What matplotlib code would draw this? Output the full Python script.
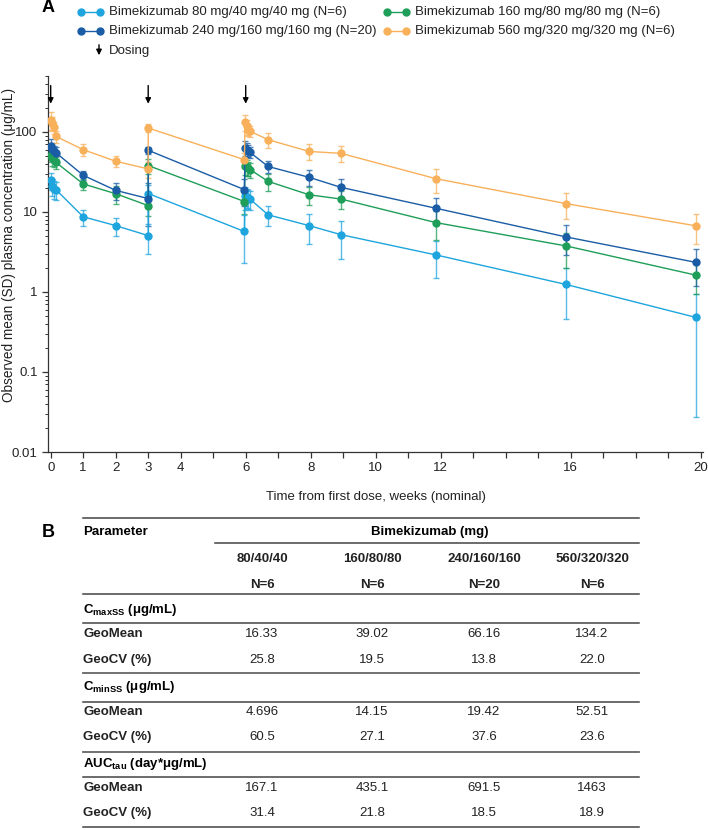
import matplotlib
matplotlib.use("Agg")
import matplotlib.pyplot as plt
from matplotlib.lines import Line2D
from matplotlib.patches import FancyArrowPatch
from matplotlib.ticker import FixedLocator, LogLocator, NullFormatter

plt.rcParams['font.family'] = ['Liberation Sans', 'DejaVu Sans']
plt.rcParams['mathtext.fontset'] = 'custom'
plt.rcParams['mathtext.rm'] = 'Liberation Sans'
plt.rcParams['mathtext.bf'] = 'Liberation Sans:bold'

# ---- data (panel A) ----
weeks = [0.01, 0.05, 0.10, 0.16, 1.0, 2.0, 3.0, 3.0, 5.96, 5.98, 6.03, 6.08, 6.13,
         6.69, 7.95, 8.93, 11.86, 15.86, 19.86]

conc_80 = [25, 21, 19.5, 19, 8.7, 6.75, 5.06, 17, 5.7, 15.7, 15.2, 14.8, 14.5,
           9.2, 6.75, 5.2, 2.9, 1.24, 0.48]
sd_80 = [6, 5, 5, 5, 2, 1.75, 2.06, 5, 3.4, 5, 4, 4, 4, 2.6, 2.8, 2.6, 1.4, 0.78, 0.453]

conc_160 = [52, 47, 44, 41.7, 22.4, 16.9, 12, 38, 13.5, 38, 36, 35, 33.9,
            24.1, 16.4, 14.5, 7.35, 3.76, 1.62]
sd_160 = [10, 9, 8, 7, 3.6, 4.3, 3, 8, 4, 9, 8, 7, 7, 6, 4.2, 3.6, 2.95, 1.76, 0.69]

conc_240 = [67, 61, 57, 55, 28.7, 18.6, 14.7, 59, 19, 63, 60, 58, 55.6,
            37, 27.1, 20.3, 11.1, 4.87, 2.34]
sd_240 = [14, 12, 10, 9, 3.5, 4.4, 8, 6, 7, 13, 12, 10, 9, 6, 6, 5.8, 3.9, 2.0, 1.15]

conc_560 = [142, 129, 115, 88, 60, 43, 34.5, 112, 45, 132, 117, 106, 102,
            80, 57, 54, 26, 12.7, 6.7]
sd_560 = [35, 25, 20, 15, 10, 7, 8, 13, 10, 30, 25, 18, 15, 17, 13, 12, 8.5, 4.6, 2.7]

dosing_weeks = [0, 3, 6]

labels = ['Bimekizumab 80 mg/40 mg/40 mg (N=6)',
          'Bimekizumab 160 mg/80 mg/80 mg (N=6)',
          'Bimekizumab 240 mg/160 mg/160 mg (N=20)',
          'Bimekizumab 560 mg/320 mg/320 mg (N=6)']
colors = ['#1EA5DE', '#1E9E58', '#1A5DA6', '#F8B05A']

xtick_labels = [0, 1, 2, 3, 4, 6, 8, 10, 12, 16, 20]

# ---- data (panel B) ----
dose_cols = ['80/40/40', '160/80/80', '240/160/160', '560/320/320']
n_cols = ['N=6', 'N=6', 'N=20', 'N=6']
cmax_geomean = ['16.33', '39.02', '66.16', '134.2']
cmax_geocv = ['25.8', '19.5', '13.8', '22.0']
cmin_geomean = ['4.696', '14.15', '19.42', '52.51']
cmin_geocv = ['60.5', '27.1', '37.6', '23.6']
auc_geomean = ['167.1', '435.1', '691.5', '1463']
auc_geocv = ['31.4', '21.8', '18.5', '18.9']

W, H = 708, 830
fig = plt.figure(figsize=(W / 100, H / 100), dpi=100)


def fx(px):
    return px / W


def fy(py):
    return 1 - py / H


ax = fig.add_axes([fx(48), fy(452), fx(703) - fx(48), fy(76) - fy(452)])

series = [(conc_80, sd_80), (conc_160, sd_160), (conc_240, sd_240), (conc_560, sd_560)]
for (c, s), col in zip(series, colors):
    ax.errorbar(weeks, c, yerr=s, fmt='none', ecolor=col, elinewidth=1.0,
                capsize=2, capthick=1.0, alpha=0.75, zorder=2)
    ax.plot(weeks, c, '-o', color=col, lw=1.0, ms=5, mec=col, zorder=3)

ax.set_yscale('log')
ax.set_ylim(0.01, 500)
ax.set_xlim(-0.083, 20.07)
ax.yaxis.set_major_locator(FixedLocator([0.01, 0.1, 1, 10, 100]))
ax.set_yticklabels(['0.01', '0.1', '1', '10', '100'])
ax.yaxis.set_minor_locator(LogLocator(base=10, subs=range(2, 10)))
ax.yaxis.set_minor_formatter(NullFormatter())

ax.set_xticks(range(21))
ax.set_xticklabels([str(i) if i in xtick_labels else '' for i in range(21)])

for sp in ['top', 'right']:
    ax.spines[sp].set_visible(False)
for sp in ['left', 'bottom']:
    ax.spines[sp].set_color('#333333')
    ax.spines[sp].set_linewidth(0.9)
ax.tick_params(axis='both', which='major', length=4, width=0.9, color='#333333',
               labelsize=9.5, labelcolor='#222222')
ax.tick_params(axis='y', which='minor', length=2.5, width=0.7, color='#333333')

ax.set_xlabel('Time from first dose, weeks (nominal)', fontsize=9.5, color='#222222', labelpad=12)
# y label placed by hand so it stays inside the figure
fig.text(fx(9), fy(245), 'Observed mean (SD) plasma concentration (μg/mL)', fontsize=9.8,
         color='#222222', rotation=90, ha='center', va='center')

for d in dosing_weeks:
    ax.annotate('', xy=(d, 225), xytext=(d, 380),
                arrowprops=dict(arrowstyle='-|>', color='black', lw=1.0,
                                mutation_scale=8, shrinkA=0, shrinkB=0))

# ---- legend (manual) ----
fig.text(fx(42), fy(8), 'A', fontsize=13, fontweight='bold', va='center', ha='left')
leg_pos = [(81, 12), (387, 12), (81, 31), (387, 31)]
for (lx, ly), lab, col in zip(leg_pos, labels, colors):
    fig.add_artist(Line2D([fx(lx), fx(lx + 19)], [fy(ly), fy(ly)], color=col, lw=1.0,
                          marker='o', ms=5, transform=fig.transFigure))
    fig.text(fx(lx + 28), fy(ly), lab, fontsize=9.5, va='center', ha='left', color='#222222')
fig.add_artist(FancyArrowPatch((fx(99), fy(42)), (fx(99), fy(58)),
                               arrowstyle='-|>', mutation_scale=8,
                               color='black', lw=1.0, transform=fig.transFigure))
fig.text(fx(109), fy(51), 'Dosing', fontsize=9.5, va='center', ha='left', color='#222222')

# ---- panel B table ----
fig.text(fx(42), fy(532), 'B', fontsize=13, fontweight='bold', va='center', ha='left')
col_x = [262, 372, 484, 592]
tbl_left, tbl_right = 83, 639
fs = 9.5


def hline(y, x0=tbl_left, x1=tbl_right, color='#444444', lw=1.1):
    fig.add_artist(Line2D([fx(x0), fx(x1)], [fy(y), fy(y)], color=color, lw=lw,
                          transform=fig.transFigure))


def row(y, label, vals, label_bold=True, vals_bold=False):
    if label:
        fig.text(fx(tbl_left), fy(y), label, fontsize=fs, va='center', ha='left',
                 fontweight='bold' if label_bold else 'normal', color='#222222')
    for x, v in zip(col_x, vals):
        fig.text(fx(x), fy(y), v, fontsize=fs, va='center', ha='center',
                 fontweight='bold' if vals_bold else 'normal', color='#222222')


hline(518)
fig.text(fx(tbl_left), fy(532), 'Parameter', fontsize=fs, fontweight='bold', va='center')
fig.text(fx(430), fy(532), 'Bimekizumab (mg)', fontsize=fs, fontweight='bold',
         va='center', ha='center')
hline(543, x0=215)
row(559, '', dose_cols, vals_bold=True)
row(585, '', n_cols, vals_bold=True)
hline(594)
fig.text(fx(tbl_left), fy(610), r'C$_{\mathbf{maxSS}}$ (μg/mL)', fontsize=fs,
         fontweight='bold', va='center')
hline(623)
row(634, 'GeoMean', cmax_geomean)
row(660, 'GeoCV (%)', cmax_geocv)
hline(673, color='#666666', lw=1.3)
fig.text(fx(tbl_left), fy(687), r'C$_{\mathbf{minSS}}$ (μg/mL)', fontsize=fs,
         fontweight='bold', va='center')
hline(702)
row(712, 'GeoMean', cmin_geomean)
row(737, 'GeoCV (%)', cmin_geocv)
hline(752, color='#666666', lw=1.3)
fig.text(fx(tbl_left), fy(764), r'AUC$_{\mathbf{tau}}$ (day*μg/mL)', fontsize=fs,
         fontweight='bold', va='center')
hline(777)
row(788, 'GeoMean', auc_geomean)
row(813, 'GeoCV (%)', auc_geocv)
hline(827)

fig.savefig('out.png', dpi=100)
